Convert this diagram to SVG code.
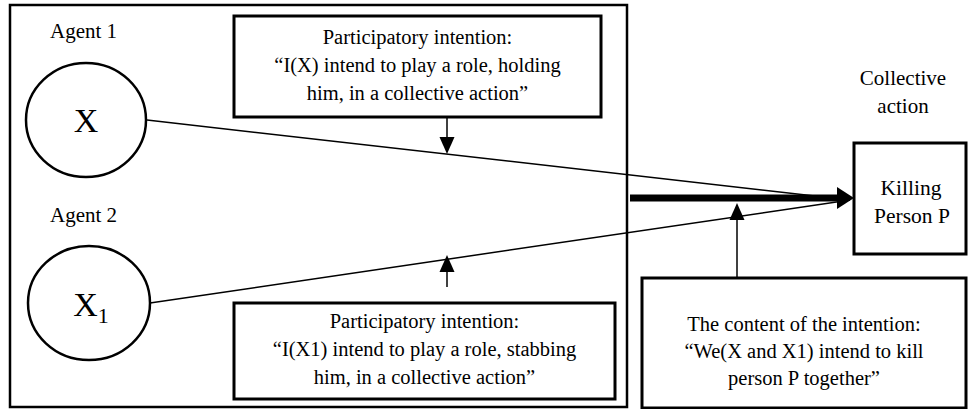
<svg xmlns="http://www.w3.org/2000/svg" width="969" height="409" viewBox="0 0 969 409">
  <style>
    .lbl { font-size: 21px; }
    .bt { font-size: 20.5px; text-anchor: middle; }
    .frame { fill: none; stroke: #000; stroke-width: 2.5; }
    .thick { fill: #fff; stroke: #000; stroke-width: 3; }
    .agent { fill: #fff; stroke: #000; stroke-width: 2.5; }
    .link { fill: none; stroke: #000; stroke-width: 1.5; }
    .head { fill: #000; stroke: none; }
  </style>

  <!-- individual-intention frame -->
  <rect id="frame" class="frame" x="10" y="5" width="617" height="402"/>

  <g id="agent1" font-family="Liberation Serif, Times New Roman, serif">
    <text class="lbl" x="50" y="38" font-family="Liberation Serif">Agent 1</text>
    <ellipse class="agent" cx="86" cy="120" rx="60" ry="57"/>
    <text x="86" y="132" font-size="34" text-anchor="middle" font-family="Liberation Serif">X</text>
  </g>

  <g id="agent2" font-family="Liberation Serif, Times New Roman, serif">
    <text class="lbl" x="50" y="222" font-family="Liberation Serif">Agent 2</text>
    <ellipse class="agent" cx="89" cy="303" rx="61" ry="57"/>
    <text x="91" y="316" font-size="34" text-anchor="middle" font-family="Liberation Serif">X<tspan font-size="22" dy="7">1</tspan></text>
  </g>

  <g id="intention1" font-family="Liberation Serif, Times New Roman, serif">
    <rect class="thick" x="234" y="16" width="367" height="101"/>
    <text class="bt" x="417.5" y="44" font-family="Liberation Serif">Participatory intention:</text>
    <text class="bt" x="417.5" y="72" font-family="Liberation Serif">“I(X) intend to play a role, holding</text>
    <text class="bt" x="417.5" y="100" font-family="Liberation Serif">him, in a collective action”</text>
  </g>

  <g id="intention2" font-family="Liberation Serif, Times New Roman, serif">
    <rect class="thick" x="234" y="303" width="381" height="96"/>
    <text class="bt" x="424.5" y="328" font-family="Liberation Serif">Participatory intention:</text>
    <text class="bt" x="424.5" y="356" font-family="Liberation Serif">“I(X1) intend to play a role, stabbing</text>
    <text class="bt" x="424.5" y="384" font-family="Liberation Serif">him, in a collective action”</text>
  </g>

  <g id="collective-label" font-family="Liberation Serif, Times New Roman, serif">
    <text class="lbl" x="903" y="85" text-anchor="middle" font-family="Liberation Serif">Collective</text>
    <text class="lbl" x="903" y="113" text-anchor="middle" font-family="Liberation Serif">action</text>
  </g>

  <g id="action" font-family="Liberation Serif, Times New Roman, serif">
    <rect class="thick" x="854" y="143" width="112" height="111"/>
    <text x="911" y="195" font-size="21.5" text-anchor="middle" font-family="Liberation Serif">Killing</text>
    <text x="912" y="223" font-size="21.5" text-anchor="middle" font-family="Liberation Serif">Person P</text>
  </g>

  <g id="content" font-family="Liberation Serif, Times New Roman, serif">
    <rect class="thick" x="642" y="278" width="324" height="130"/>
    <text class="bt" x="804" y="331" font-family="Liberation Serif">The content of the intention:</text>
    <text class="bt" x="804" y="358" font-family="Liberation Serif">“We(X and X1) intend to kill</text>
    <text class="bt" x="804" y="385" font-family="Liberation Serif">person P together”</text>
  </g>

  <g id="connectors">
    <line class="link" x1="147" y1="120" x2="850" y2="200"/>
    <line class="link" x1="150" y1="303" x2="850" y2="200"/>
    <!-- bold arrow into the collective action -->
    <line x1="630" y1="198" x2="839" y2="198" stroke="#000" stroke-width="7"/>
    <polygon class="head" points="837,187 854,198 837,209"/>
    <!-- participatory intentions feeding each agent line -->
    <line class="link" x1="447" y1="117" x2="447" y2="140"/>
    <polygon class="head" points="439.5,137 454.5,137 447,154"/>
    <line class="link" x1="447" y1="287" x2="447" y2="270"/>
    <polygon class="head" points="439.5,272 454.5,272 447,255"/>
    <!-- shared content feeding the collective action -->
    <line class="link" x1="737" y1="278" x2="737" y2="218"/>
    <polygon class="head" points="729.5,220 744.5,220 737,203"/>
  </g>
</svg>
